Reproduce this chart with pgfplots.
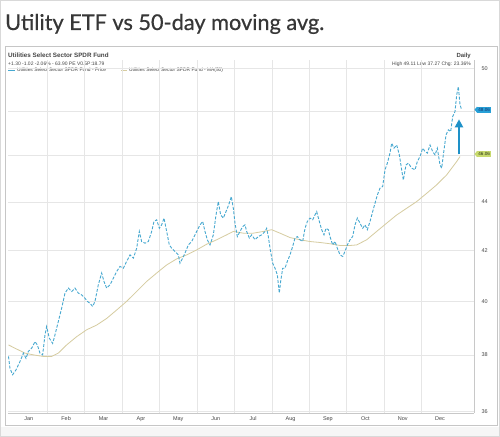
\documentclass[border=0pt]{standalone}
\usepackage{fontspec}
\setmainfont{Liberation Sans}
\newfontfamily\titlefont[FakeBold=0.6]{Lato}
\usepackage{pgfplots}
\pgfplotsset{compat=1.18}
\usetikzlibrary{arrows.meta}
\definecolor{pricec}{RGB}{70,168,208}
\definecolor{mac}{RGB}{214,204,160}
\definecolor{gridc}{RGB}{230,230,230}
\definecolor{axc}{RGB}{200,200,200}
\definecolor{tagblue}{RGB}{40,160,215}
\definecolor{taggreen}{RGB}{200,218,110}
\definecolor{arrowc}{RGB}{30,145,200}
\definecolor{txt}{RGB}{70,70,70}
\definecolor{titlec}{RGB}{55,55,55}
\definecolor{tagbtxt}{RGB}{20,50,110}
\definecolor{taggtxt}{RGB}{40,50,20}
\begin{document}
\begin{tikzpicture}
\useasboundingbox (0bp,0bp) rectangle (500bp,437bp);
\fill[white] (0bp,0bp) rectangle (500bp,437bp);
\fill[gray!7] (0bp,0bp) rectangle (500bp,10bp);
\draw[gray!30, line width=0.6bp] (0.3bp,0.3bp) rectangle (499.7bp,436.7bp);
\draw[gray!45, line width=1bp] (5bp,11bp) rectangle (497bp,390bp);
\node[anchor=base west, inner sep=0pt, text=titlec, font=\titlefont\fontsize{21.8}{25}\selectfont] at (5bp,407bp) {Utility ETF vs 50-day moving avg.};
\node[anchor=base west, inner sep=0pt, text=txt, font=\bfseries\fontsize{6.3}{7}\selectfont] at (8bp,379bp) {Utilities Select Sector SPDR Fund};
\node[anchor=base west, inner sep=0pt, text=txt, font=\fontsize{5}{6}\selectfont] at (8bp,371bp) {+1.30 -1.02 -2.06\% - 63.90 PE V0.5P:18.79};
\draw[pricec, line width=0.8bp] (8bp,367bp) -- (15bp,367bp);
\node[anchor=base west, inner sep=0pt, text=txt, font=\fontsize{4.9}{6}\selectfont] at (17bp,365bp) {Utilities Select Sector SPDR Fund - Price};
\draw[mac, line width=0.8bp] (121bp,367bp) -- (127bp,367bp);
\node[anchor=base west, inner sep=0pt, text=txt, font=\fontsize{4.9}{6}\selectfont] at (129bp,365bp) {Utilities Select Sector SPDR Fund - MA(50)};
\node[anchor=base east, inner sep=0pt, text=txt, font=\bfseries\fontsize{6}{7}\selectfont] at (471bp,379bp) {Daily};
\node[anchor=base east, inner sep=0pt, text=txt, font=\fontsize{5}{6}\selectfont] at (471bp,371bp) {High 49.11 Low 37.27 Chg: 23.36\%};
\begin{axis}[
  at={(8bp,24bp)}, anchor=south west, scale only axis,
  width=466bp, height=353bp,
  xmin=-0.053, xmax=12.406,
  ymode=log, ymin=35.95, ymax=50.4,
  axis x line*=bottom, axis y line*=right,
  axis line style={axc, line width=0.6bp},
  xtick={0.5,1.5,2.5,3.5,4.5,5.5,6.5,7.5,8.5,9.5,10.5,11.5},
  xticklabels={Jan,Feb,Mar,Apr,May,Jun,Jul,Aug,Sep,Oct,Nov,Dec},
  minor xtick={1,2,3,4,5,6,7,8,9,10,11},
  xminorgrids,
  minor grid style={gridc, line width=0.6bp},
  ytick={36,38,40,42,44,46,48,50},
  yticklabels={36,38,40,42,44,,,50},
  ymajorgrids,
  major grid style={gridc, line width=0.5bp},
  major tick length=0pt, minor tick length=0pt,
  ticklabel style={font=\fontsize{5.5}{6}\selectfont, text=txt},
  yticklabel style={xshift=4bp},
  clip=false,
]
\addplot[mac, line width=0.8bp] coordinates {
(-0.04,38.37) (0.134,38.25) (0.401,38.07) (0.624,38.01) (0.891,37.95)
(1.114,37.95) (1.292,38.07) (1.515,38.37) (1.783,38.68) (2.050,38.93)
(2.317,39.11) (2.585,39.36) (2.852,39.68) (3.119,40.00) (3.387,40.38)
(3.654,40.77) (3.922,41.10) (4.189,41.42) (4.456,41.66) (4.724,41.82)
(4.991,42.02) (5.258,42.25) (5.526,42.43) (5.793,42.63) (5.971,42.77)
(6.239,42.70) (6.506,42.70) (6.774,42.77) (6.996,42.84) (7.219,42.70)
(7.487,42.52) (7.754,42.43) (8.021,42.36) (8.289,42.32) (8.556,42.27)
(8.824,42.20) (9.091,42.20) (9.269,42.22) (9.537,42.43) (9.804,42.77)
(10.071,43.11) (10.339,43.45) (10.606,43.73) (10.873,44.01) (11.141,44.36)
(11.408,44.72) (11.676,45.15) (11.943,45.73) (12.032,45.95)
};
\addplot[pricec, line width=0.9bp, dash pattern=on 3bp off 1.6bp] coordinates {
(-0.04,37.95) (0,37.52) (0.071,37.29) (0.160,37.46) (0.223,37.64)
(0.285,37.82) (0.357,38.07) (0.428,37.88) (0.490,38.13) (0.579,38.25)
(0.668,38.49) (0.731,38.37) (0.802,38.07) (0.873,38.01) (0.936,38.74)
(0.980,39.05) (1.052,38.62) (1.141,38.43) (1.203,38.74) (1.292,39.24)
(1.381,39.74) (1.471,40.32) (1.560,40.51) (1.649,40.38) (1.738,40.51)
(1.827,40.32) (1.916,40.25) (2.005,40.12) (2.068,40.00) (2.139,39.93)
(2.210,39.81) (2.273,40.00) (2.362,40.64) (2.451,41.10) (2.513,40.77)
(2.585,40.51) (2.674,40.64) (2.763,40.90) (2.852,41.16) (2.941,41.36)
(3.030,41.29) (3.119,41.56) (3.209,41.82) (3.298,41.69) (3.387,42.09)
(3.458,42.77) (3.520,42.36) (3.610,42.29) (3.699,42.36) (3.788,42.77)
(3.850,43.18) (3.922,43.25) (3.993,42.90) (4.055,43.04) (4.118,43.32)
(4.189,42.77) (4.260,42.22) (4.323,42.09) (4.412,41.96) (4.501,41.82)
(4.545,41.49) (4.617,41.69) (4.679,41.89) (4.768,42.22) (4.857,42.36)
(4.991,42.77) (5.080,43.04) (5.152,43.18) (5.214,42.77) (5.276,42.43)
(5.348,42.22) (5.437,42.63) (5.508,43.45) (5.570,44.01) (5.633,43.45)
(5.704,43.32) (5.775,43.59) (5.847,43.87) (5.918,44.22) (5.971,43.73)
(6.016,43.11) (6.078,42.56) (6.150,42.77) (6.221,42.97) (6.283,43.04)
(6.328,42.77) (6.399,42.50) (6.462,42.63) (6.551,42.43) (6.640,42.56)
(6.729,42.63) (6.818,42.77) (6.863,42.90) (6.907,42.56) (6.952,42.09)
(7.023,41.49) (7.086,41.29) (7.148,41.03) (7.201,40.32) (7.237,40.77)
(7.291,41.29) (7.353,41.29) (7.415,41.56) (7.487,41.82) (7.558,42.16)
(7.620,42.50) (7.683,42.56) (7.754,42.43) (7.825,42.36) (7.888,42.90)
(7.950,43.18) (8.021,43.32) (8.093,43.25) (8.155,43.45) (8.200,43.59)
(8.271,43.18) (8.333,42.84) (8.396,42.63) (8.449,42.90) (8.512,42.84)
(8.556,42.56) (8.627,42.22) (8.690,42.36) (8.752,42.09) (8.824,41.82)
(8.895,41.76) (8.957,41.96) (9.020,42.22) (9.091,42.43) (9.162,42.56)
(9.225,43.04) (9.287,43.32) (9.358,43.11) (9.430,42.90) (9.492,43.04)
(9.554,42.84) (9.626,43.18) (9.697,43.59) (9.759,43.94) (9.822,44.29)
(9.893,44.58) (9.964,44.65) (10.027,45.37) (10.089,45.66) (10.160,46.10)
(10.205,46.54) (10.267,46.32) (10.339,46.46) (10.410,46.02) (10.472,45.37)
(10.517,44.93) (10.588,45.58) (10.651,45.66) (10.740,45.44) (10.829,45.37)
(10.891,45.73) (10.963,45.95) (11.034,46.32) (11.096,46.17) (11.159,46.10)
(11.230,46.46) (11.301,46.17) (11.364,46.02) (11.426,46.32) (11.497,45.58)
(11.542,45.44) (11.586,46.02) (11.658,46.91) (11.720,47.14) (11.783,47.06)
(11.836,47.74) (11.898,47.97) (11.943,48.74) (11.988,49.13) (12.032,48.28)
(12.077,48.05)
};
\coordinate (arrA) at (axis cs:12.005,46.05);
\coordinate (arrB) at (axis cs:12.005,47.62);
\coordinate (tagB) at (axis cs:12.406,48.06);
\coordinate (tagG) at (axis cs:12.406,46.06);
\end{axis}
\draw[arrowc, line width=2.6bp, -{Triangle[width=8bp,length=8bp]}] (arrA) -- (arrB);
\node[fill=tagblue, text=tagbtxt, font=\fontsize{4.6}{5}\selectfont, inner xsep=1.2bp, inner ysep=1.2bp, anchor=west] (tb) at ([xshift=3bp]tagB) {48.06};
\fill[tagblue] (tb.north west) -- ([xshift=-2.5bp]tb.west) -- (tb.south west) -- cycle;
\node[fill=taggreen, text=taggtxt, font=\fontsize{4.6}{5}\selectfont, inner xsep=1.2bp, inner ysep=1.2bp, anchor=west] (tg) at ([xshift=3bp]tagG) {46.06};
\fill[taggreen] (tg.north west) -- ([xshift=-2.5bp]tg.west) -- (tg.south west) -- cycle;
\end{tikzpicture}
\end{document}
